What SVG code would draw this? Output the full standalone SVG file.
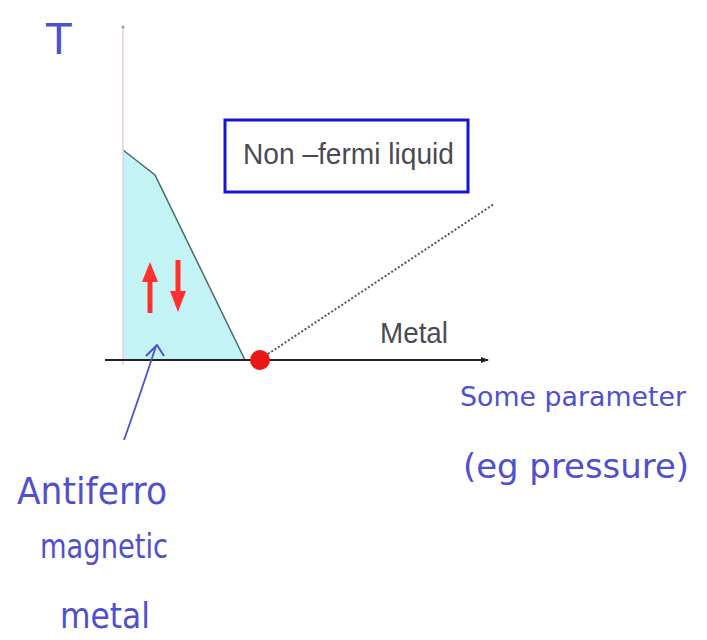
<svg xmlns="http://www.w3.org/2000/svg" width="707" height="640" viewBox="0 0 707 640">
<style>
.hand{font-family:"DejaVu Sans","Noto Sans",sans-serif;fill:#4f4fd0;font-weight:normal}
.lbl{font-family:"Liberation Sans",Arial,sans-serif;fill:#4a4a55}
</style>
<defs>
<marker id="ah" markerWidth="8" markerHeight="8" refX="7" refY="4" orient="auto" markerUnits="userSpaceOnUse">
<path d="M0,1 L8,4 L0,7 z" fill="#222"/>
</marker>
</defs>
<rect width="707" height="640" fill="#ffffff"/>
<g id="afm-region">
<polygon points="123,150 155,175 245,360 123,360" fill="#c4f3f5"/>
<polyline points="123,150 155,175 245,360" fill="none" stroke="#4a6a6a" stroke-width="1.5"/>
</g>
<g id="axes">
<line x1="123" y1="28" x2="123" y2="365" stroke="#e4cde4" stroke-width="1.5"/>
<circle cx="123" cy="27" r="1.5" fill="#999"/>
<line x1="105" y1="360" x2="488" y2="360" stroke="#222" stroke-width="2" marker-end="url(#ah)"/>
</g>
<g id="spins">
<path d="M150,313 L150,278" stroke="#ff3030" stroke-width="5"/>
<path d="M142,282 L150,262 L158,282 z" fill="#ff3030"/>
<path d="M178,260 L178,294" stroke="#ff3030" stroke-width="5"/>
<path d="M170,291 L178,312 L186,291 z" fill="#ff3030"/>
</g>
<g id="connectors">
<line x1="268" y1="354" x2="494" y2="204" stroke="#555" stroke-width="2" stroke-dasharray="2,2"/>
<path d="M124,440 Q140,395 156,346" fill="none" stroke="#4f4fd0" stroke-width="1.8"/>
<path d="M146,356 L157,345 L164,356" fill="none" stroke="#4f4fd0" stroke-width="2"/>
</g>
<g id="qcp">
<circle cx="260" cy="360" r="10" fill="#e81818"/>
</g>
<g id="nfl-box">
<rect x="225" y="120" width="243" height="72" fill="#fff" stroke="#1515d0" stroke-width="3"/>
<text class="lbl" x="243" y="164" font-size="30" textLength="211" lengthAdjust="spacingAndGlyphs">Non –fermi liquid</text>
</g>
<g id="metal-label">
<text class="lbl" x="380" y="343" font-size="30" textLength="68" lengthAdjust="spacingAndGlyphs">Metal</text>
</g>
<g id="T-label">
<text class="hand" x="46" y="54" font-size="42">T</text>
</g>
<g id="param-label">
<text class="hand" x="460" y="406" font-size="27" textLength="226" lengthAdjust="spacingAndGlyphs">Some parameter</text>
<text class="hand" x="463" y="478" font-size="34" textLength="226" lengthAdjust="spacingAndGlyphs">(eg pressure)</text>
</g>
<g id="afm-label">
<text class="hand" x="17" y="504" font-size="38" textLength="150" lengthAdjust="spacingAndGlyphs">Antiferro</text>
<text class="hand" x="40" y="558" font-size="34" textLength="128" lengthAdjust="spacingAndGlyphs">magnetic</text>
<text class="hand" x="60" y="628" font-size="36" textLength="90" lengthAdjust="spacingAndGlyphs">metal</text>
</g>
</svg>
